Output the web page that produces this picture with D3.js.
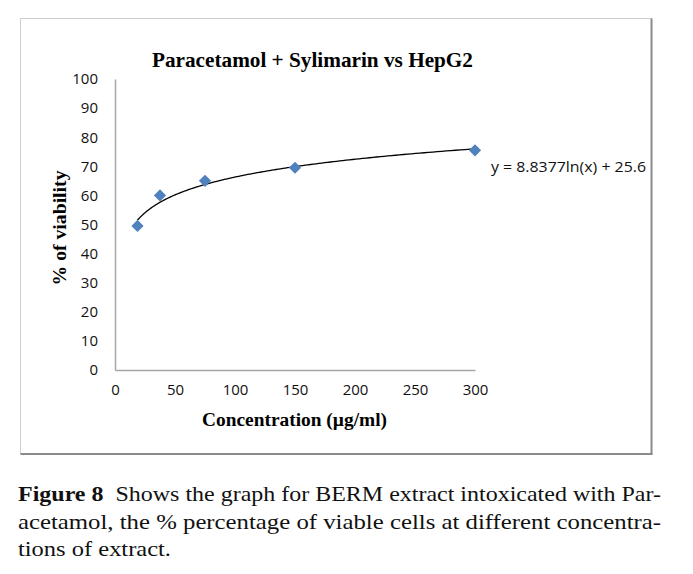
<!DOCTYPE html>
<html>
<head>
<meta charset="utf-8">
<script src="https://cdn.jsdelivr.net/npm/d3@7"></script>
<style>
  html, body { margin: 0; padding: 0; background: #fff; }
  svg { display: block; }
</style>
</head>
<body>
<svg id="chart" width="693" height="574"></svg>
<script>
// ---- Data ----
const concentrations = [18.75, 37.5, 75, 150, 300];
const viability = [49.5, 60, 65, 69.5, 75.5];
const xTickValues = [0, 50, 100, 150, 200, 250, 300];
const yTickValues = [0, 10, 20, 30, 40, 50, 60, 70, 80, 90, 100];
const trendCoefA = 8.8377;
const trendCoefB = 25.6;
const chartTitle = "Paracetamol + Sylimarin vs HepG2";
const xAxisTitle = "Concentration (\u00b5g/ml)";
const yAxisTitle = "% of viability";
const equationLabel = "y = 8.8377ln(x) + 25.6";
const captionLines = [
  [["Figure 8", true], ["  Shows the graph for BERM extract intoxicated with Par-", false]],
  [["acetamol, the % percentage of viable cells at different concentra-", false]],
  [["tions of extract.", false]]
];

const svg = d3.select("#chart");

function fit(sel, w) {
  const n = sel.node();
  const cur = n.getComputedTextLength();
  if (cur > 0) sel.attr("textLength", w).attr("lengthAdjust", "spacingAndGlyphs");
  return sel;
}

// ---- Frame ----
svg.append("rect").attr("x", 20.5).attr("y", 18.5).attr("width", 631).attr("height", 435)
  .attr("fill", "#fff").attr("stroke", "#cfcfcf").attr("stroke-width", 1);
svg.append("line").attr("x1", 651.5).attr("y1", 18.5).attr("x2", 651.5).attr("y2", 454.5)
  .attr("stroke", "#8a8a8a").attr("stroke-width", 2);
svg.append("line").attr("x1", 20.5).attr("y1", 454).attr("x2", 652.5).attr("y2", 454)
  .attr("stroke", "#8a8a8a").attr("stroke-width", 2);

// ---- Scales ----
const x = d3.scaleLinear().domain([0, 300]).range([115, 475]);
const y = d3.scaleLinear().domain([0, 100]).range([370, 79]);

// ---- Axes ----
const yAxis = svg.append("g").attr("transform", `translate(${x(0)},0)`)
  .call(d3.axisLeft(y).tickValues(yTickValues).tickSize(0).tickPadding(17).tickFormat(d3.format("d")));
const xAxis = svg.append("g").attr("transform", `translate(0,${y(0)})`)
  .call(d3.axisBottom(x).tickValues(xTickValues).tickSize(0).tickPadding(14).tickFormat(d3.format("d")));
[xAxis, yAxis].forEach(g => {
  g.select(".domain").attr("stroke", "#a6a6a6").attr("stroke-width", 1.5);
  g.selectAll("text").attr("font-family", "'Open Sans', 'Liberation Sans', sans-serif")
    .attr("font-size", 15).attr("fill", "#111");
});

// ---- Trendline ----
const trendX = d3.range(0, 201).map(i => 18.75 * Math.pow(300 / 18.75, i / 200));
const line = d3.line().x(d => x(d)).y(d => y(trendCoefA * Math.log(d) + trendCoefB)).curve(d3.curveLinear);
svg.append("path").datum(trendX).attr("d", line)
  .attr("fill", "none").attr("stroke", "#000").attr("stroke-width", 1.3);

// ---- Markers ----
const pts = concentrations.map((c, i) => ({ c, v: viability[i] }));
svg.append("g").selectAll("path").data(pts).enter().append("path")
  .attr("d", d3.symbol().type(d3.symbolDiamond2).size(95))
  .attr("transform", d => `translate(${x(d.c)},${y(d.v)})`)
  .attr("fill", "#4f81bd");

// ---- Titles ----
const t = svg.append("text").attr("x", 312.5).attr("y", 67).attr("text-anchor", "middle")
  .attr("font-family", "'Liberation Serif', 'Times New Roman', serif").attr("font-weight", "bold")
  .attr("font-size", 21).attr("fill", "#000").text(chartTitle);
fit(t, 321);

const xt = svg.append("text").attr("x", 294.5).attr("y", 426).attr("text-anchor", "middle")
  .attr("font-family", "'Liberation Serif', 'Times New Roman', serif").attr("font-weight", "bold")
  .attr("font-size", 18).attr("fill", "#000").text(xAxisTitle);
fit(xt, 185);

const yt = svg.append("text").attr("transform", "translate(66,228) rotate(-90)").attr("text-anchor", "middle")
  .attr("font-family", "'Liberation Serif', 'Times New Roman', serif").attr("font-weight", "bold")
  .attr("font-size", 18).attr("fill", "#000").text(yAxisTitle);
fit(yt, 115);

// ---- Equation ----
const eq = svg.append("text").attr("x", 491).attr("y", 172)
  .attr("font-family", "'Open Sans', 'Liberation Sans', sans-serif").attr("font-size", 14)
  .attr("fill", "#111").text(equationLabel);
fit(eq, 155);

// ---- Caption ----
const capY = [501, 528.5, 556];
const capW = [643, 643, 153];
captionLines.forEach((parts, i) => {
  const tx = svg.append("text").attr("x", 18).attr("y", capY[i])
    .attr("font-family", "'Liberation Serif', 'Times New Roman', serif")
    .attr("font-size", 22).attr("fill", "#111").attr("xml:space", "preserve");
  parts.forEach(([s, b]) => {
    tx.append("tspan").attr("font-weight", b ? "bold" : "normal").text(s);
  });
  fit(tx, capW[i]);
});
</script>
</body>
</html>
